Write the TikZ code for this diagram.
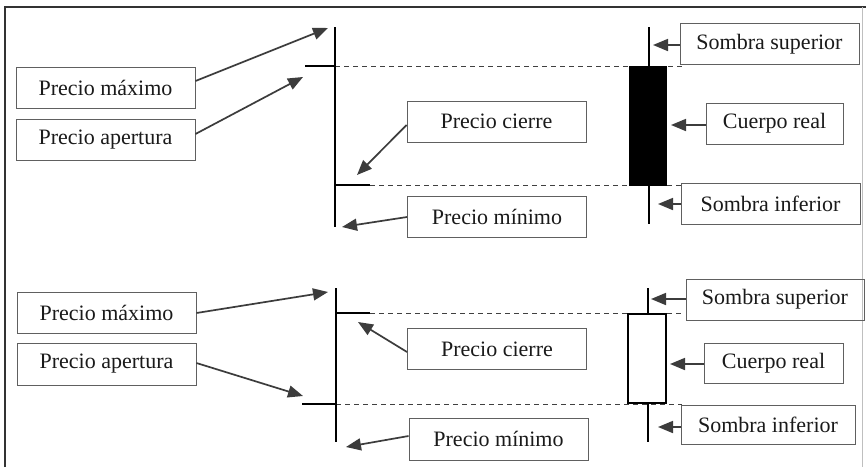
\documentclass[tikz,border=0pt]{standalone}
\usepackage{fontspec}
\setmainfont{Liberation Serif}
\usetikzlibrary{arrows.meta}
\definecolor{arrcol}{HTML}{3C3C3C}
\definecolor{boxcol}{HTML}{606060}
\definecolor{txtcol}{HTML}{1A1A1A}
\begin{document}
\begin{tikzpicture}[x=1pt,y=-1pt,
  lbl/.style={draw=boxcol,line width=0.9pt,text=txtcol,inner sep=0pt,
    font=\fontsize{22}{24}\selectfont,minimum width=179pt,minimum height=41pt},
  ptr/.style={draw=arrcol,line width=1.7pt,-{Triangle[length=15pt,width=12pt]},shorten >=0pt},
  stick/.style={line width=2.4pt,black},
  tick/.style={line width=2.8pt,black},
  guide/.style={draw=black!75,line width=0.8pt,dash pattern=on 5pt off 4pt}]
\useasboundingbox (0,0) rectangle (868,467);
\fill[white] (0,0) rectangle (868,467);
% frame
\draw[line width=1.2pt,black!80] (5,467) -- (5,7) -- (866,7);
\draw[line width=0.6pt,black!25] (862,7) -- (862,467);

% ===== top panel =====
\draw[guide] (335,66) -- (682,66);
\draw[guide] (370,185) -- (682,185);
\draw[stick] (335,27) -- (335,227);
\draw[tick] (305,66) -- (335,66);
\draw[tick] (335,185) -- (370,185);
\draw[stick] (649,27) -- (649,224);
\fill[black] (629,66) rectangle (667,186);

\node[lbl] (maxA) at (105.5,88) {Precio máximo};
\node[lbl] (apA) at (105.5,139.5) {Precio apertura};
\node[lbl] (ciA) at (496.5,121.5) {Precio cierre};
\node[lbl] (minA) at (497,217) {Precio mínimo};
\node[lbl] (ssA) at (769.5,44) {Sombra superior};
\node[lbl,minimum width=137pt] (crA) at (774.5,123.5) {Cuerpo real};
\node[lbl] (siA) at (770.5,203.5) {Sombra inferior};

\coordinate (tmaxA) at (328,28);
\coordinate (tapA) at (303,77);
\coordinate (tciA) at (357,175);
\coordinate (tminA) at (342,227);
\coordinate (tssA) at (653,45);
\coordinate (tcrA) at (671,125);
\coordinate (tsiA) at (658,204);

\draw[ptr] (maxA.east |- 0,81) -- (tmaxA);
\draw[ptr] (apA.east |- 0,134) -- (tapA);
\draw[ptr] (ciA.west |- 0,125) -- (tciA);
\draw[ptr] (minA.west |- 0,217) -- (tminA);
\draw[ptr] (ssA.west |- 0,45) -- (tssA);
\draw[ptr] (crA.west |- 0,125) -- (tcrA);
\draw[ptr] (siA.west |- 0,204) -- (tsiA);

% ===== bottom panel =====
\draw[guide] (370,313) -- (682,313);
\draw[guide] (336,404) -- (682,404);
\draw[stick] (336,288) -- (336,442);
\draw[tick] (302,404) -- (336,404);
\draw[tick] (336,313) -- (370,313);
\draw[stick] (648,288) -- (648,442);
\draw[line width=2.2pt,black,fill=white] (628,314) rectangle (666,403);

\node[lbl] (maxB) at (106.5,312.5) {Precio máximo};
\node[lbl,minimum height=42pt] (apB) at (106.5,364) {Precio apertura};
\node[lbl] (ciB) at (497,349) {Precio cierre};
\node[lbl,minimum height=42pt] (minB) at (498.5,439) {Precio mínimo};
\node[lbl,minimum width=178pt] (ssB) at (775,299.5) {Sombra superior};
\node[lbl,minimum width=139pt,minimum height=40pt] (crB) at (773.5,363) {Cuerpo real};
\node[lbl,minimum width=174pt,minimum height=39pt] (siB) at (768,424.5) {Sombra inferior};

\coordinate (tmaxB) at (328,292);
\coordinate (tapB) at (303,396);
\coordinate (tciB) at (358,322);
\coordinate (tminB) at (346,447);
\coordinate (tssB) at (651,299);
\coordinate (tcrB) at (670,364);
\coordinate (tsiB) at (658,427);

\draw[ptr] (maxB.east |- 0,313) -- (tmaxB);
\draw[ptr] (apB.east |- 0,363) -- (tapB);
\draw[ptr] (ciB.west |- 0,352) -- (tciB);
\draw[ptr] (minB.west |- 0,436) -- (tminB);
\draw[ptr] (ssB.west |- 0,299) -- (tssB);
\draw[ptr] (crB.west |- 0,364) -- (tcrB);
\draw[ptr] (siB.west |- 0,427) -- (tsiB);
\end{tikzpicture}
\end{document}
